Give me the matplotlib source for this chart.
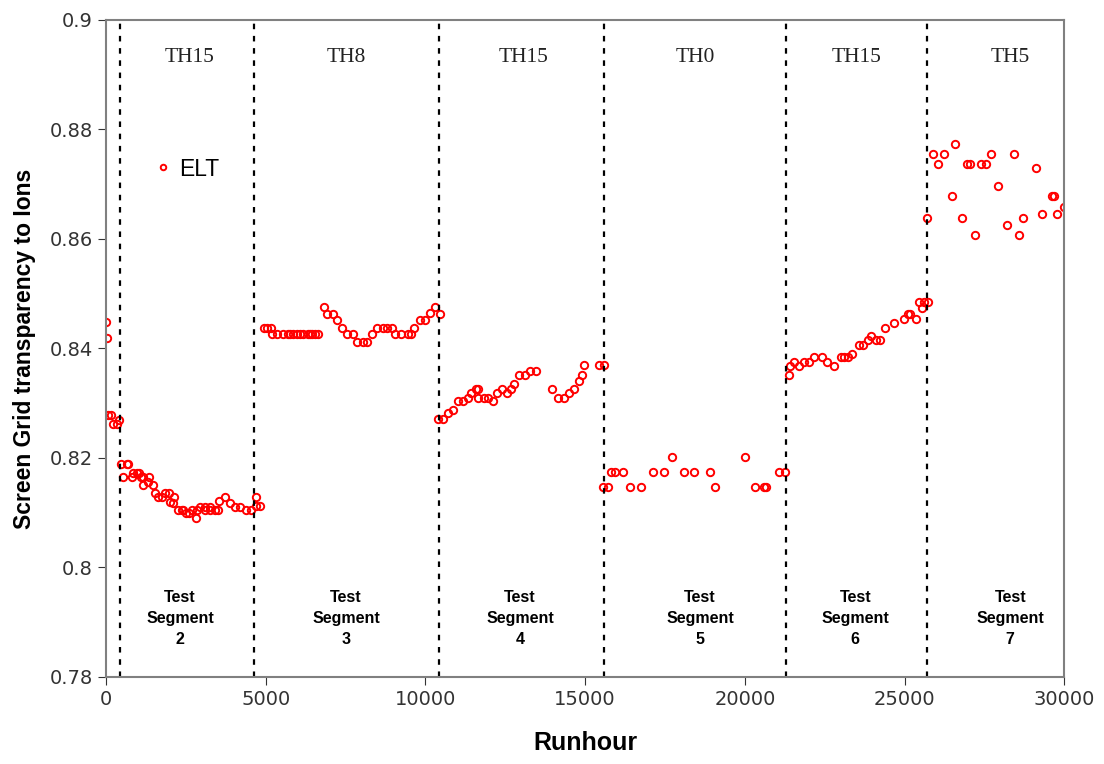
import matplotlib.pyplot as plt
from matplotlib.ticker import FuncFormatter

# data (runhour, transparency)
runhour = [0, 20, 70, 150, 230, 335, 417,
           470, 520, 645, 695, 800, 855, 960, 1020, 1085, 1170, 1170, 1326, 1357, 1462,
           1535, 1640, 1745, 1848, 1973, 2005, 2090, 2140, 2265, 2370, 2420, 2505, 2610,
           2685, 2820, 2840, 2945, 3100, 3100, 3255, 3255, 3415, 3517, 3550, 3727, 3883,
           4040, 4197, 4385, 4541, 4697, 4697, 4833,
           4950, 5052, 5158, 5190, 5365, 5534, 5710, 5763, 5866, 5970, 6075, 6178, 6335,
           6388, 6441, 6544, 6649, 6827, 6931, 7118, 7225, 7381, 7557, 7726, 7870, 8039,
           8164, 8341, 8497, 8665, 8790, 8948, 9051, 9229, 9468, 9543, 9646, 9834, 9991,
           10147, 10304, 10460,
           10408, 10545, 10722, 10877, 11034, 11190, 11328, 11422, 11578, 11641, 11661,
           11838, 11973, 12111, 12236, 12393, 12568, 12674, 12788, 12944, 13122, 13279,
           13458, 13958, 14166, 14344, 14500, 14657, 14823, 14898, 14980, 15440, 15606,
           15575, 15731, 15806, 15941, 16201, 16411, 16745, 17121, 17475, 17735, 18080,
           18415, 18894, 19073, 19990, 20326, 20586, 20661, 21077, 21265,
           21369, 21422, 21526, 21704, 21861, 21996, 22152, 22414, 22571, 22800, 23009,
           23113, 23217, 23353, 23562, 23698, 23844, 23960, 24116, 24241, 24397, 24679,
           24992, 25096, 25180, 25368, 25462, 25545, 25597, 25734,
           25703, 25879, 26048, 26245, 26486, 26589, 26809, 26956, 27038, 27194, 27404,
           27551, 27695, 27927, 28197, 28416, 28572, 28697, 29126, 29305, 29618, 29668,
           29773, 29993]
transparency = [0.8448, 0.8419, 0.8279, 0.8279, 0.8262, 0.8262, 0.8269,
                0.8189, 0.8166, 0.8189, 0.8189, 0.8166, 0.8173, 0.8173, 0.8173, 0.8166, 0.8166, 0.8150, 0.8156, 0.8166, 0.8150,
                0.8135, 0.8128, 0.8128, 0.8135, 0.8135, 0.8120, 0.8117, 0.8128, 0.8105, 0.8105, 0.8105, 0.8099, 0.8099,
                0.8105, 0.8090, 0.8105, 0.8111, 0.8111, 0.8105, 0.8111, 0.8105, 0.8105, 0.8105, 0.8121, 0.8128, 0.8118,
                0.8111, 0.8111, 0.8105, 0.8105, 0.8112, 0.8128, 0.8112,
                0.8438, 0.8438, 0.8438, 0.8426, 0.8426, 0.8426, 0.8426, 0.8426, 0.8426, 0.8426, 0.8426, 0.8426, 0.8426,
                0.8426, 0.8426, 0.8426, 0.8426, 0.8476, 0.8463, 0.8463, 0.8451, 0.8438, 0.8426, 0.8426, 0.8412, 0.8412,
                0.8412, 0.8426, 0.8438, 0.8438, 0.8438, 0.8438, 0.8426, 0.8426, 0.8426, 0.8426, 0.8438, 0.8451, 0.8451,
                0.8464, 0.8476, 0.8463,
                0.8271, 0.8271, 0.8282, 0.8288, 0.8303, 0.8303, 0.8310, 0.8319, 0.8325, 0.8325, 0.8309,
                0.8309, 0.8309, 0.8303, 0.8319, 0.8325, 0.8319, 0.8325, 0.8335, 0.8351, 0.8351, 0.8358,
                0.8358, 0.8325, 0.8310, 0.8310, 0.8319, 0.8325, 0.8341, 0.8351, 0.8369, 0.8369, 0.8369,
                0.8147, 0.8147, 0.8175, 0.8175, 0.8175, 0.8147, 0.8147, 0.8175, 0.8175, 0.8201, 0.8175,
                0.8175, 0.8175, 0.8147, 0.8201, 0.8147, 0.8147, 0.8147, 0.8175, 0.8175,
                0.8351, 0.8368, 0.8375, 0.8368, 0.8375, 0.8375, 0.8384, 0.8384, 0.8375, 0.8368, 0.8384,
                0.8384, 0.8384, 0.8390, 0.8406, 0.8406, 0.8416, 0.8422, 0.8416, 0.8416, 0.8437, 0.8447,
                0.8453, 0.8463, 0.8463, 0.8453, 0.8485, 0.8473, 0.8485, 0.8485,
                0.8639, 0.8755, 0.8736, 0.8755, 0.8679, 0.8774, 0.8639, 0.8736, 0.8736, 0.8607, 0.8736,
                0.8736, 0.8755, 0.8697, 0.8626, 0.8755, 0.8607, 0.8639, 0.8729, 0.8645, 0.8679, 0.8679,
                0.8645, 0.8658]

# segment boundaries and labels
boundaries = [438, 4635, 10430, 15600, 21300, 25710]
th_labels = ["TH15", "TH8", "TH15", "TH0", "TH15", "TH5"]
th_pos = [2630, 7516, 13060, 18446, 23490, 28310]
seg_labels = ["Test\nSegment\n2", "Test\nSegment\n3", "Test\nSegment\n4",
              "Test\nSegment\n5", "Test\nSegment\n6", "Test\nSegment\n7"]
seg_pos = [2317, 7516, 12966, 18600, 23457, 28310]

fig = plt.figure(figsize=(11.04, 7.64), dpi=100)
ax = fig.add_axes([0.096, 0.114, 0.868, 0.860])

ax.plot(runhour, transparency, linestyle='none', marker='o', markersize=5.3,
        markerfacecolor='none', markeredgecolor='red', markeredgewidth=1.4, label='ELT')

for b in boundaries:
    ax.axvline(b, color='black', linestyle=(0, (2.5, 3)), linewidth=1.6)

for lab, xp in zip(th_labels, th_pos):
    ax.text(xp, 0.8932, lab, ha='center', va='center', fontsize=15.5,
            family='Liberation Serif', color='#222222')

for lab, xp in zip(seg_labels, seg_pos):
    ax.text(xp, 0.7906, lab, ha='center', va='center', fontsize=11.5,
            fontweight='bold', family='Liberation Sans', linespacing=1.5)

ax.set_xlim(0, 30000)
ax.set_ylim(0.78, 0.9)
ax.set_xticks(range(0, 30001, 5000))
ax.set_yticks([0.78, 0.8, 0.82, 0.84, 0.86, 0.88, 0.9])
ax.yaxis.set_major_formatter(FuncFormatter(lambda v, p: ('%.2f' % v).rstrip('0').rstrip('.')))
ax.tick_params(axis='both', labelsize=14, colors='#333333', length=6, direction='out')
for s in ax.spines.values():
    s.set_color('#808080')
    s.set_linewidth(1.5)

ax.set_xlabel('Runhour', fontsize=18, fontweight='bold', family='Liberation Sans', labelpad=16)
ax.set_ylabel('Screen Grid transparency to Ions', fontsize=16.5, fontweight='bold',
              family='Liberation Sans', labelpad=10)

ax.legend(loc='center left', bbox_to_anchor=(0.026, 0.773), frameon=False,
          handletextpad=0.2, handlelength=1.0, markerscale=0.75,
          prop={'family': 'Liberation Sans', 'size': 16.5})

fig.savefig('out.png', dpi=100)
